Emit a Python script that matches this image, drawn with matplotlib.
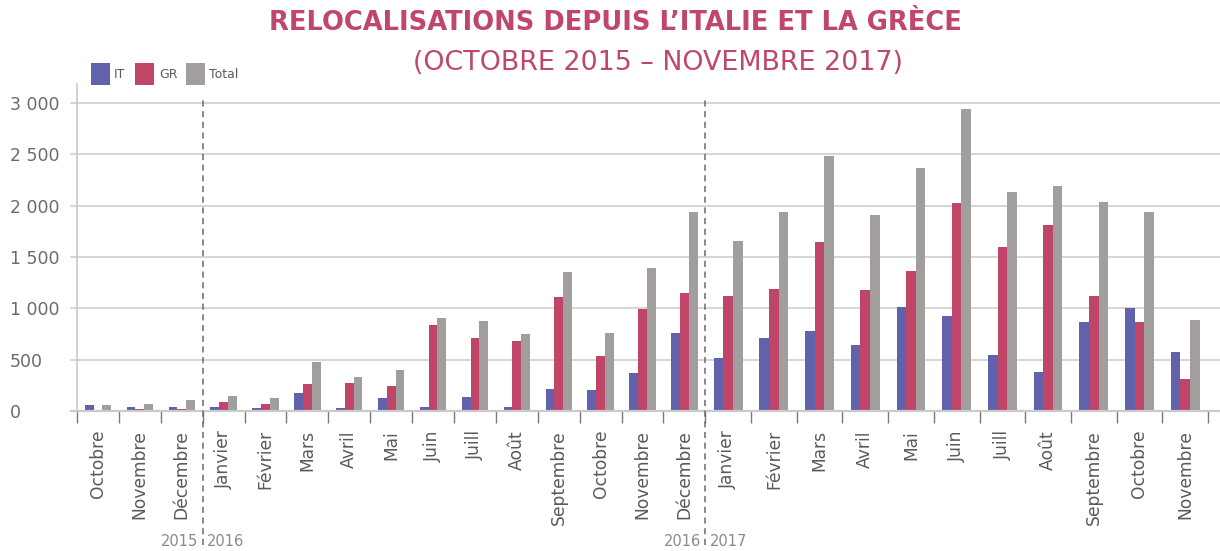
import numpy as np
import matplotlib
matplotlib.use("Agg")
import matplotlib.pyplot as plt
from matplotlib.patches import Rectangle

# ---------------- data ----------------
months = ["Octobre", "Novembre", "Décembre",
          "Janvier", "Février", "Mars", "Avril", "Mai", "Juin", "Juill", "Août",
          "Septembre", "Octobre", "Novembre", "Décembre",
          "Janvier", "Février", "Mars", "Avril", "Mai", "Juin", "Juill", "Août",
          "Septembre", "Octobre", "Novembre"]
years = [2015] * 3 + [2016] * 12 + [2017] * 11
it_vals = [57, 36, 36, 36, 26, 172, 26, 130, 42, 134, 41, 210, 207, 366, 759,
           519, 712, 775, 647, 1012, 926, 544, 382, 865, 1000, 577]
gr_vals = [10, 20, 20, 91, 68, 260, 277, 244, 842, 715, 684, 1109, 531, 997, 1147,
           1118, 1188, 1644, 1182, 1365, 2030, 1596, 1808, 1125, 865, 312]
total_vals = [60, 68, 104, 150, 124, 482, 329, 397, 905, 880, 750, 1355, 762, 1390, 1935,
              1660, 1935, 2480, 1910, 2365, 2945, 2130, 2195, 2035, 1935, 885]
series_names = ["IT", "GR", "Total"]
yticks = [0, 500, 1000, 1500, 2000, 2500, 3000]
ytick_labels = ["0", "500", "1 000", "1 500", "2 000", "2 500", "3 000"]
title1 = "RELOCALISATIONS DEPUIS L’ITALIE ET LA GRÈCE"
title2 = "(OCTOBRE 2015 – NOVEMBRE 2017)"

# ---------------- style ----------------
C_IT = "#6062ab"
C_GR = "#bf4569"
C_TOT = "#a39e9e"
C_TITLE = "#c0466c"
C_GRID = "#cacaca"
colors = [C_IT, C_GR, C_TOT]

W, H = 1220, 551
fig = plt.figure(figsize=(W / 100, H / 100), dpi=100)
plt.rcParams["font.family"] = ["DejaVu Sans"]

ax_left, ax_right, ax_top, ax_bot = 77, 1215, 84, 411
ax = fig.add_axes([ax_left / W, 1 - ax_bot / H, (ax_right - ax_left) / W, (ax_bot - ax_top) / H])

# category widths: 2017 categories are wider (11 fill the space of 12)
years_arr = np.array(years)
widths = np.where(years_arr == 2017, 12 / 11, 1.0)
edges = np.concatenate([[0], np.cumsum(widths)])
centers = edges[:-1] + widths / 2
bw = 0.21 * widths

for k, (vals, col) in enumerate(zip([it_vals, gr_vals, total_vals], colors)):
    ax.bar(centers + (k - 1) * bw, vals, width=bw, color=col, linewidth=0, zorder=3)

px_per_unit = (1208 - ax_left) / edges[-1]
ax.set_xlim(0, (ax_right - ax_left) / px_per_unit)
ax.set_ylim(0, (ax_bot - ax_top) / ((ax_bot - 103) / 3000))

# grid lines (extend slightly outside the axes)
ytr = ax.get_yaxis_transform()
gx0 = (71 - ax_left) / (ax_right - ax_left)
gx1 = (1220 - ax_left) / (ax_right - ax_left)
for yv in yticks:
    ax.plot([gx0, gx1], [yv, yv], transform=ytr, color=C_GRID,
            lw=1.6 if yv == 0 else 1.1, clip_on=False, zorder=1 if yv else 4)

for s in ["top", "right", "bottom"]:
    ax.spines[s].set_visible(False)
ax.spines["left"].set_color(C_GRID)
ax.spines["left"].set_linewidth(1.2)

# y ticks
ax.set_yticks(yticks)
ax.set_yticklabels(ytick_labels)
ax.tick_params(axis="y", length=0, pad=(ax_left - 10) * 0.72, labelsize=12.5, labelcolor="#6b6b6b")
for lbl in ax.get_yticklabels():
    lbl.set_horizontalalignment("left")

# x ticks: major at edges, minor labels at centers
ax.set_xticks(edges)
ax.set_xticklabels([])
ax.tick_params(axis="x", which="major", length=12 * 0.72, width=1, color="#7a7a7a")
ax.set_xticks(centers, minor=True)
ax.set_xticklabels(months, minor=True, rotation=90, va="top", ha="center")
ax.tick_params(axis="x", which="minor", length=0, pad=19 * 0.72, labelsize=12.3, labelcolor="#5a5a5a")

# year separators
for i in [3, 15]:
    xb = edges[i]
    ax.axvline(xb, ymin=(ax_bot - 545) / (ax_bot - ax_top), ymax=(ax_bot - 96) / (ax_bot - ax_top),
               color="#6a6a6a", lw=1.1, ls=(0, (4, 3)), clip_on=False, zorder=5)

# year labels
xtr = ax.get_xaxis_transform()
yl = -(541 - ax_bot) / (ax_bot - ax_top)
for i in [3, 15]:
    xb = edges[i]
    ax.text(xb - 0.1, yl, str(years[i - 1]), transform=xtr, ha="right", va="center",
            fontsize=10.5, color="#8a8a8a")
    ax.text(xb + 0.1, yl, str(years[i]), transform=xtr, ha="left", va="center",
            fontsize=10.5, color="#8a8a8a")

# legend (manual)
leg_sq_x = [91, 135, 186]
leg_tx_x = [114, 159, 209]
for name, col, sx, tx in zip(series_names, colors, leg_sq_x, leg_tx_x):
    fig.add_artist(Rectangle((sx / W, 1 - 85 / H), 19 / W, 22 / H, transform=fig.transFigure,
                             facecolor=col, edgecolor="none"))
    fig.text(tx / W, 1 - 75 / H, name, ha="left", va="center", fontsize=9, color="#5a5a5a")

# titles
fig.text(615 / W, 1 - 22.5 / H, title1, ha="center", va="center", fontsize=18.5,
         fontweight="bold", color=C_TITLE)
fig.text(658 / W, 1 - 63.5 / H, title2, ha="center", va="center", fontsize=19.4,
         color=C_TITLE)

fig.savefig("out.png", dpi=100)
